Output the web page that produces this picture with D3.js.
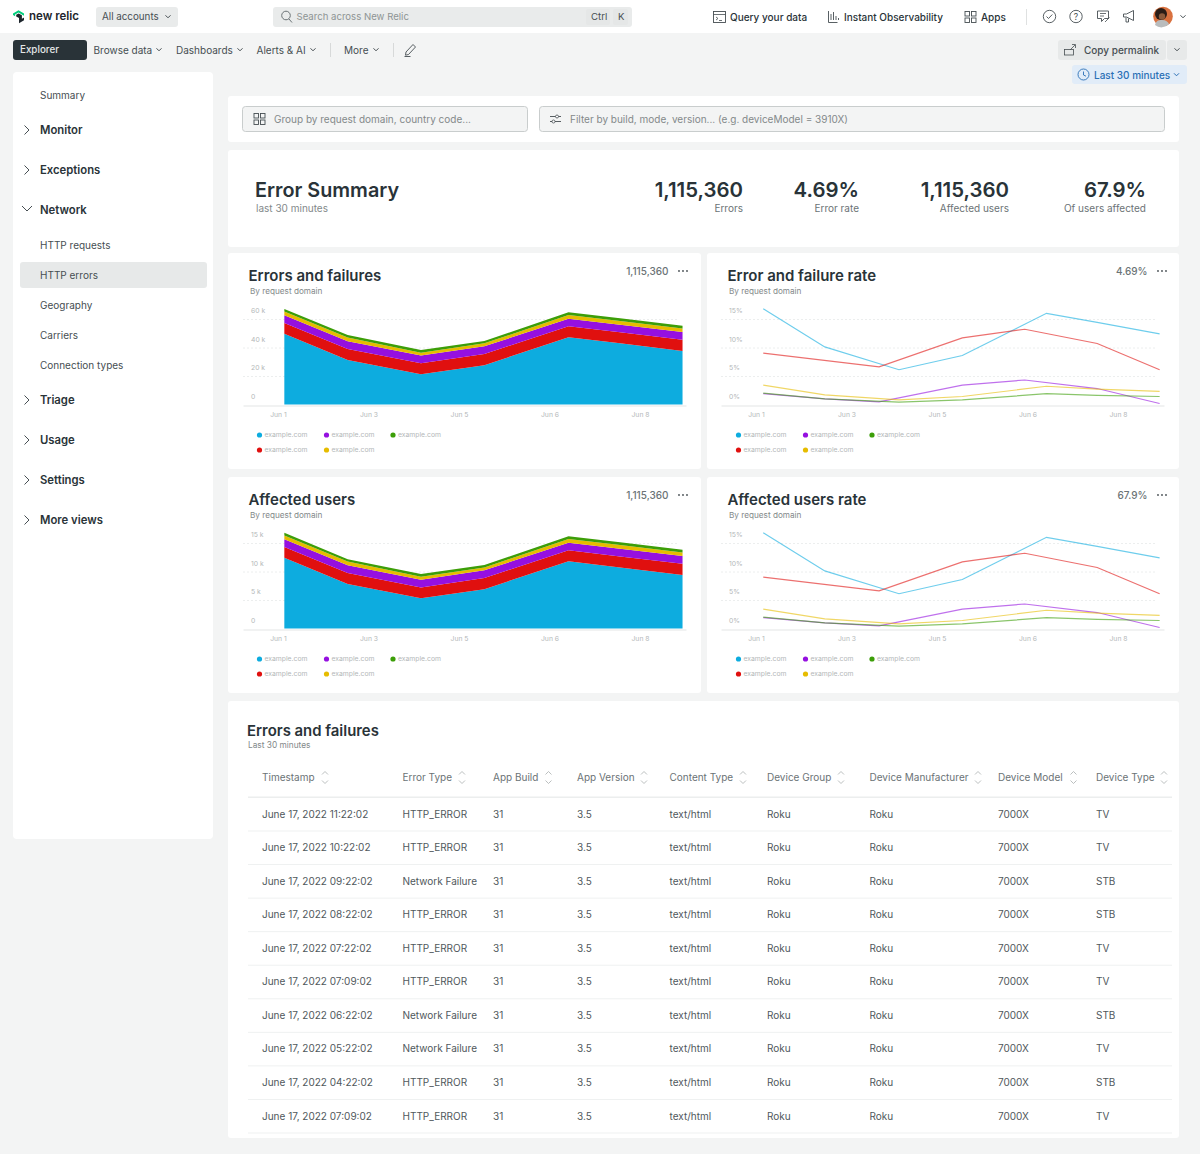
<!DOCTYPE html>
<html lang="en">
<head>
<meta charset="UTF-8">
<title>New Relic - HTTP errors</title>
<script src="https://cdn.jsdelivr.net/npm/d3@7"></script>
<style>
  html, body { margin: 0; background: #f3f4f4; overflow: hidden; }
  svg text { font-family: Inter, "Noto Sans", sans-serif; }
  .grid line { stroke: #eceeee; stroke-dasharray: 2 2; }
  .grid .domain { display: none; }
  .grid text, .xaxis text { fill: #b4b8b9; font-size: 6.8px; }
  .xaxis .domain { stroke: #e3e5e5; }
  .xaxis line { display: none; }
</style>
</head>
<body>
<svg id="page" width="1200" height="1154"></svg>
<script>
// chart data
var tickLabels = ["Jun 1", "Jun 3", "Jun 5", "Jun 6", "Jun 8"];
var areaX = [0.07, 0.77, 1.58, 2.28, 3.21, 3.78, 4.47];

// stacked areas, bottom to top (errors)
var errBlue = [49.6, 31.2, 21.3, 27.6, 47.2, 42.9, 37.6];
var errRed = [7.6, 7.8, 7.6, 7.8, 7.8, 7.8, 7.8];
var errPurple = [5.4, 5.4, 5.4, 5.4, 5.2, 5.3, 5.4];
var errYellow = [2.6, 2.6, 2.1, 2.1, 2.6, 2.6, 2.6];
var errGreen = [1.9, 1.7, 1.9, 1.7, 1.9, 1.9, 1.9];

// same for affected users
var userBlue = [12.4, 7.8, 5.3, 6.9, 11.8, 10.7, 9.4];
var userRed = [1.9, 1.95, 1.9, 1.95, 1.95, 1.95, 1.95];
var userPurple = [1.35, 1.35, 1.35, 1.35, 1.3, 1.33, 1.35];
var userYellow = [0.65, 0.65, 0.52, 0.52, 0.65, 0.65, 0.65];
var userGreen = [0.48, 0.42, 0.48, 0.42, 0.48, 0.48, 0.48];

// rate lines have their own x positions per domain
var blueX = [0.08, 0.76, 1.58, 2.28, 3.21, 3.77, 4.46];
var blueRate = [16.8, 10.1, 6.1, 8.6, 16.0, 14.4, 12.4];
var redX = [0.08, 1.36, 2.28, 2.97, 3.77, 4.46];
var redRate = [9.0, 6.6, 11.7, 13.2, 10.7, 6.1];
var purpleX = [0.08, 0.76, 1.36, 2.28, 2.97, 3.77, 4.46];
var purpleRate = [1.9, 1.0, 0.47, 3.4, 4.3, 2.8, 0.18];
var yellowX = [0.08, 0.76, 1.58, 2.28, 3.21, 3.77, 4.46];
var yellowRate = [3.4, 1.7, 0.8, 1.4, 3.2, 2.7, 2.3];
var greenX = [0.08, 0.76, 1.58, 2.28, 3.21, 3.77, 4.46];
var greenRate = [2.0, 1.0, 0.4, 0.8, 1.9, 1.6, 1.4];

// table
var columns = ["Timestamp", "Error Type", "App Build", "App Version", "Content Type", "Device Group", "Device Manufacturer", "Device Model", "Device Type"];
var timestamps = ["June 17, 2022 11:22:02", "June 17, 2022 10:22:02", "June 17, 2022 09:22:02", "June 17, 2022 08:22:02", "June 17, 2022 07:22:02", "June 17, 2022 07:09:02", "June 17, 2022 06:22:02", "June 17, 2022 05:22:02", "June 17, 2022 04:22:02", "June 17, 2022 07:09:02"];
var errorTypes = ["HTTP_ERROR", "HTTP_ERROR", "Network Failure", "HTTP_ERROR", "HTTP_ERROR", "HTTP_ERROR", "Network Failure", "Network Failure", "HTTP_ERROR", "HTTP_ERROR"];
var deviceTypes = ["TV", "TV", "STB", "STB", "TV", "TV", "STB", "TV", "STB", "TV"];

var metricValues = ["1,115,360", "4.69%", "1,115,360", "67.9%"];
var metricLabels = ["Errors", "Error rate", "Affected users", "Of users affected"];
var sideItems = ["Summary", "Monitor", "Exceptions", "Network", "HTTP requests", "HTTP errors", "Geography", "Carriers", "Connection types", "Triage", "Usage", "Settings", "More views"];

var colors = { blue: "#0dacdf", red: "#e0100f", purple: "#9510e0", yellow: "#e6bc00", green: "#3c9e08" };

var svg = d3.select("#page");

function box(x, y, w, h, fill, r, stroke) {
  return svg.append("rect").attr("x", x).attr("y", y).attr("width", w).attr("height", h)
    .attr("rx", r || 0).attr("fill", fill).attr("stroke", stroke || "none");
}
function label(x, y, str, size, fill, weight, anchor, parent) {
  return (parent || svg).append("text").attr("x", x).attr("y", y - 0.5).text(str)
    .attr("font-size", size).attr("fill", fill).attr("font-weight", weight || 400)
    .attr("text-anchor", anchor || "start").attr("dominant-baseline", "central");
}
function stroke(d, color, w) {
  return svg.append("path").attr("d", d).attr("fill", "none").attr("stroke", color).attr("stroke-width", w || 1);
}
function chevDown(x, y, color) { stroke("M" + (x - 2.5) + " " + (y - 1.2) + "l2.5 2.5l2.5 -2.5", color || "#464e52"); }
function chevRight(x, y) { stroke("M" + (x - 2.5) + " " + (y - 4.5) + "l4.5 4.5l-4.5 4.5", "#464e52"); }
function grid4(x, y, c) {
  [[0, 0], [6.5, 0], [0, 6.5], [6.5, 6.5]].forEach(function (o) {
    svg.append("rect").attr("x", x + o[0]).attr("y", y + o[1]).attr("width", 4.5).attr("height", 4.5)
      .attr("fill", "none").attr("stroke", c || "#464e52").attr("stroke-width", 0.9);
  });
}

// top bar
box(0, 0, 1200, 33, "#fff");
svg.append("path").attr("d", "M13 13.5l5.5 -3.2l5.5 3.2v2.2l-5.5 -3.2l-3.4 2v1.8l-2.1 -1.2z").attr("fill", "#00ce7c");
svg.append("path").attr("d", "M24 13.7v6.5l-5 3v-5.2l-2.8 -1.6v-1.6l2.4 -1.4l3.3 1.9v3.4l2.1 -1.2z").attr("fill", "#1d252c");
label(29, 16.5, "new relic", 11.5, "#1d252c", 600);
box(96, 7, 82, 20, "#e9ebeb", 3);
label(102, 17, "All accounts", 9.8, "#464e52");
chevDown(168, 16.5);
box(273, 7, 359, 20, "#e9ebeb", 3);
svg.append("circle").attr("cx", 286).attr("cy", 15.5).attr("r", 4.3).attr("fill", "none").attr("stroke", "#6b7376");
stroke("M289 19l3 3.5", "#6b7376");
label(296.5, 17, "Search across New Relic", 9.6, "#8e9494");
box(586, 9, 24, 16, "#e5e7e7", 2);
label(591, 17, "Ctrl", 9.6, "#464e52");
box(613, 9, 15, 16, "#e5e7e7", 2);
label(618, 17, "K", 9.6, "#464e52");

svg.append("rect").attr("x", 713.5).attr("y", 11.5).attr("width", 12).attr("height", 11).attr("fill", "none").attr("stroke", "#464e52").attr("stroke-width", 0.9);
stroke("M713.5 14.5h12M716 17l2 1.5l-2 1.5M719 20.5h3", "#464e52", 0.8);
label(730, 17, "Query your data", 10, "#293338", 500);
stroke("M828.5 11v11.5h9M831 20v-6M833.5 20v-8M836 20v-4M838.5 20v-2", "#464e52", 0.9);
label(844, 17, "Instant Observability", 10, "#293338", 500);
grid4(965, 11.5);
label(981, 17, "Apps", 10, "#293338", 500);
box(1026, 9, 1, 16, "#dfe1e1");
[1049.5, 1076].forEach(function (cx) {
  svg.append("circle").attr("cx", cx).attr("cy", 16.5).attr("r", 6.2).attr("fill", "none").attr("stroke", "#464e52").attr("stroke-width", 0.9);
});
stroke("M1046.5 16.5l2 2l3.8 -4", "#464e52", 0.9);
label(1076, 17, "?", 8.5, "#464e52", 400, "middle");
stroke("M1097.5 11h11v7.5h-4l-3 3v-3h-4z", "#464e52", 0.9);
stroke("M1100 13.5h6M1100 16h4M1105 22l4.5 -4.5", "#464e52", 0.8);
stroke("M1123.5 14h3l7 -3.5v10l-7 -3.5h-3zM1126 17.5v4.5h2.5v-3.5", "#464e52", 0.9);
svg.append("circle").attr("cx", 1163).attr("cy", 16.5).attr("r", 9.8).attr("fill", "#d9713f");
svg.append("circle").attr("cx", 1161).attr("cy", 14).attr("r", 6).attr("fill", "#2a1c16");
svg.append("path").attr("d", "M1155 25c1 -4 3 -5 7 -5s6 2 7 4a10 10 0 0 1 -14 1z").attr("fill", "#b9bcbd");
svg.append("circle").attr("cx", 1162).attr("cy", 16.5).attr("r", 3.2).attr("fill", "#8a5a3c");
chevDown(1183, 16.5);

// second row
box(13, 40, 74, 20, "#293338", 3);
label(20, 50, "Explorer", 9.8, "#e4e7e7", 500);
[["Browse data", 93.5, 159], ["Dashboards", 176, 240], ["Alerts & AI", 256.5, 313], ["More", 344, 376]].forEach(function (d) {
  label(d[1], 50, d[0], 10, "#464e52");
  chevDown(d[2], 49.5);
});
box(330, 43, 1, 14, "#d7d9d9");
box(393, 43, 1, 14, "#d7d9d9");
stroke("M406 52l7 -7.5l2.5 2.5l-7 7.5l-3 0.7zM404.5 56.5h6", "#464e52", 0.9);
box(1058, 40, 108, 20, "#e7e9e9", 3);
box(1167, 40, 20, 20, "#e7e9e9", 3);
svg.append("rect").attr("x", 1064.5).attr("y", 49.5).attr("width", 9).attr("height", 5.5).attr("fill", "none").attr("stroke", "#464e52").attr("stroke-width", 0.8);
stroke("M1070 50l5 -5M1072 44.5h3.5v3.5", "#464e52", 0.8);
label(1084, 50, "Copy permalink", 10, "#464e52", 500);
chevDown(1177, 49.5);
box(1072, 65, 115, 19, "#e1ecf8", 3);
svg.append("circle").attr("cx", 1083.5).attr("cy", 74.5).attr("r", 5.5).attr("fill", "none").attr("stroke", "#2a6fb5").attr("stroke-width", 0.9);
stroke("M1083.5 71.5v3.5l2.5 1.2", "#2a6fb5", 0.9);
label(1094, 75, "Last 30 minutes", 10, "#2a6fb5", 500);
chevDown(1176.5, 74.5, "#2a6fb5");

// sidebar
box(13, 72, 200, 767, "#fff", 4);
box(20, 262, 187, 26, "#e7e9e9", 3);
var sideY = [95, 130, 170, 210, 245, 275, 305, 335, 365, 400, 440, 480, 520];
var sideBold = ["Monitor", "Exceptions", "Network", "Triage", "Usage", "Settings", "More views"];
sideItems.forEach(function (name, i) {
  var bold = sideBold.indexOf(name) >= 0;
  label(40, sideY[i], name, bold ? 11.3 : 10, bold ? "#293338" : "#464e52", bold ? 600 : 400);
  if (name === "Network") stroke("M22 206l5 5l5 -5", "#464e52");
  else if (bold) chevRight(27, sideY[i]);
});

// filter row
box(228, 96, 951, 46, "#fff", 3);
box(242.5, 106.5, 285, 25, "#f3f4f4", 3, "#c9cdcd");
box(539.5, 106.5, 625, 25, "#f3f4f4", 3, "#c9cdcd");
grid4(254, 113.5);
label(274, 119, "Group by request domain, country code...", 10, "#83898a");
stroke("M550 116.5h11M550 121.5h11", "#464e52", 0.9);
svg.append("circle").attr("cx", 557).attr("cy", 116.5).attr("r", 1.5).attr("fill", "#fff").attr("stroke", "#464e52").attr("stroke-width", 0.8);
svg.append("circle").attr("cx", 553.5).attr("cy", 121.5).attr("r", 1.5).attr("fill", "#fff").attr("stroke", "#464e52").attr("stroke-width", 0.8);
label(570, 119, "Filter by build, mode, version... (e.g. deviceModel = 3910X)", 10, "#83898a");

// summary
box(228, 150, 951, 97, "#fff", 3);
label(255, 190, "Error Summary", 19.8, "#293338", 600);
label(256, 208, "last 30 minutes", 10, "#83898a");
var metricX = [743, 859, 1009, 1146];
metricValues.forEach(function (v, i) {
  label(metricX[i], 190, v, 20.4, "#293338", 600, "end");
  label(metricX[i], 208, metricLabels[i], 10, "#6b7376", 400, "end");
});

// chart cards
function card(x, y, w, title, total) {
  box(x, y, w, 216, "#fff", 3);
  label(x + 20.5, y + 23, title, 15, "#293338", 600);
  label(x + 22, y + 38, "By request domain", 8.2, "#83898a");
  label(x + 440.5, y + 18.5, total, 10, "#6b7376", 500, "end");
  [-4, 0, 4].forEach(function (o) {
    svg.append("circle").attr("cx", x + 455 + o).attr("cy", y + 18).attr("r", 0.9).attr("fill", "#464e52");
  });
  var legend = [["blue", 31.5, 182], ["purple", 98.5, 182], ["green", 165, 182], ["red", 31.5, 197], ["yellow", 98.5, 197]];
  legend.forEach(function (d) {
    svg.append("circle").attr("cx", x + d[1]).attr("cy", y + d[2]).attr("r", 2.6).attr("fill", colors[d[0]]);
    label(x + d[1] + 5, y + d[2], "example.com", 6.8, "#b4b8b9");
  });
}

function axes(x, y, yMax, yTicks, yFormat) {
  var g = svg.append("g").attr("transform", "translate(" + x + "," + y + ")");
  var xs = d3.scaleLinear().domain([0, 4]).range([50, 412]);
  var ys = d3.scaleLinear().domain([0, yMax]).range([151.5, 66]);
  g.append("g").attr("class", "xaxis").attr("transform", "translate(0,152.5)")
    .call(d3.axisBottom(xs).tickValues([0, 1, 2, 3, 4]).tickSize(0).tickPadding(7).tickFormat(function (d) { return tickLabels[d]; }));
  g.select(".xaxis .domain").attr("d", "M15.5 0.5H458.5");
  var gy = g.append("g").attr("class", "grid").attr("transform", "translate(15,0)")
    .call(d3.axisLeft(ys).tickValues(yTicks).tickSize(-435).tickPadding(0).tickFormat(yFormat));
  gy.selectAll("text").attr("text-anchor", "start").attr("x", 8).attr("dy", "-6.5px");
  gy.selectAll("line").filter(function (d) { return d === 0; }).remove();
  return { g: g, xs: xs, ys: ys };
}

function areaChart(x, y, title, yMax, yTicks, fmt, layers) {
  card(x, y, 473, title, "1,115,360");
  var a = axes(x, y, yMax, yTicks, fmt);
  var keys = ["blue", "red", "purple", "yellow", "green"];
  var rows = areaX.map(function (xv, i) {
    var r = { x: xv };
    keys.forEach(function (k, j) { r[k] = layers[j][i]; });
    return r;
  });
  var stack = d3.stack().keys(keys)(rows);
  var area = d3.area().x(function (d) { return a.xs(d.data.x); })
    .y0(function (d) { return a.ys(d[0]); }).y1(function (d) { return a.ys(d[1]); });
  a.g.selectAll(".layer").data(stack).join("path").attr("class", "layer")
    .attr("d", area).attr("fill", function (d) { return colors[d.key]; });
}

function lineChart(x, y, title, total) {
  card(x, y, 472, title, total);
  var a = axes(x - 1, y, 15, [0, 5, 10, 15], function (d) { return d + "%"; });
  var series = [["blue", blueX, blueRate], ["red", redX, redRate], ["purple", purpleX, purpleRate], ["yellow", yellowX, yellowRate], ["green", greenX, greenRate]];
  var line = d3.line().x(function (d) { return a.xs(d[0]); }).y(function (d) { return a.ys(d[1]); });
  series.forEach(function (s) {
    a.g.append("path").attr("d", line(d3.zip(s[1], s[2])))
      .attr("fill", "none").attr("stroke", colors[s[0]]).attr("stroke-opacity", 0.6).attr("stroke-width", 1.2);
  });
}

areaChart(228, 253, "Errors and failures", 60, [0, 20, 40, 60], function (d) { return d ? d + " k" : "0"; }, [errBlue, errRed, errPurple, errYellow, errGreen]);
lineChart(707, 253, "Error and failure rate", "4.69%");
areaChart(228, 477, "Affected users", 15, [0, 5, 10, 15], function (d) { return d ? d + " k" : "0"; }, [userBlue, userRed, userPurple, userYellow, userGreen]);
lineChart(707, 477, "Affected users rate", "67.9%");

// table
box(228, 701, 951, 437, "#fff", 3);
label(247, 731, "Errors and failures", 14.9, "#293338", 600);
label(248, 745.5, "Last 30 minutes", 8.3, "#83898a");
var colX = [262, 402.5, 493, 577, 669.5, 767, 869.5, 998, 1096];
var sortX = [325, 462, 548.5, 644, 743, 841, 978, 1073.5, 1164];
columns.forEach(function (c, i) {
  label(colX[i], 777, c, 10, "#6b7376");
  stroke("M" + (sortX[i] - 3) + " 774.5l3 -3l3 3M" + (sortX[i] - 3) + " 780.5l3 3l3 -3", "#a9aeae", 0.8);
});
box(248, 796.5, 924, 1.5, "#eceeee");
var rowY = d3.scaleLinear().domain([0, 9]).range([814, 1116]);
timestamps.forEach(function (t, i) {
  var y = rowY(i);
  var cells = [t, errorTypes[i], "31", "3.5", "text/html", "Roku", "Roku", "7000X", deviceTypes[i]];
  cells.forEach(function (c, j) { label(colX[j], y, c, 10, "#50585c"); });
  box(248, y + 16.5, 924, 1, "#eff1f1");
});
</script>
</body>
</html>
